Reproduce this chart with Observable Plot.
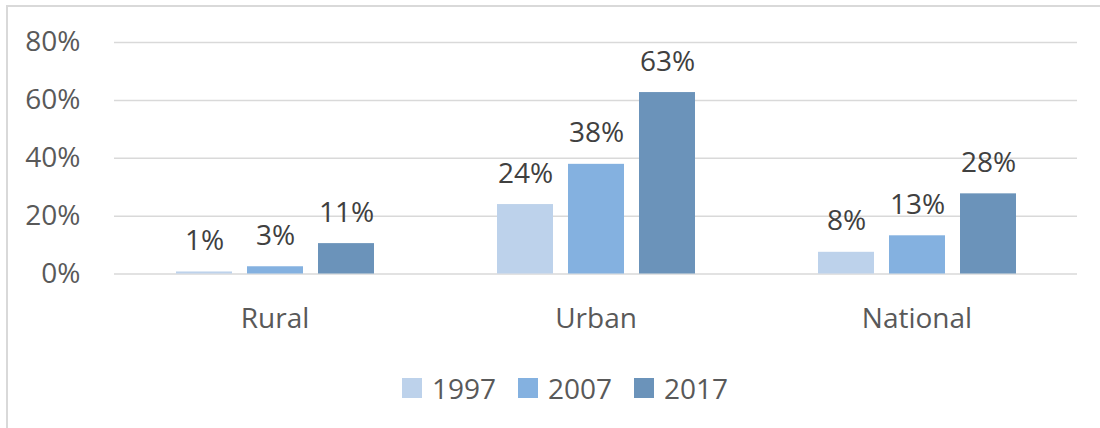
<!DOCTYPE html>
<html><head><meta charset="utf-8">
<script src="https://cdn.jsdelivr.net/npm/d3@7"></script>
<script src="https://cdn.jsdelivr.net/npm/@observablehq/plot@0.6"></script>
<style>
body{margin:0;background:#fff;font-family:"Open Sans",sans-serif;}
#wrap{position:relative;width:1100px;height:428px;overflow:hidden;}
#frame{position:absolute;left:6px;top:5px;width:1200px;height:500px;border:2px solid #d9d9d9;}
#chart{position:absolute;left:0;top:0;}
#legend{position:absolute;left:402px;top:368px;display:flex;align-items:center;font-size:28px;color:#595959;line-height:40px;}
.item{display:flex;align-items:center;margin-right:22px}
.sw{width:20px;height:20px;margin-right:10px}
</style></head>
<body><div id="wrap"><div id="frame"></div><div id="chart"></div><div id="legend"></div></div>
<script>
const categories = ["Rural", "Urban", "National"];
const years = ["1997", "2007", "2017"];
const colors = ["#bdd2eb", "#84b1e0", "#6b93ba"];
const rural = [0.7, 2.5, 10.5];
const urban = [24.0, 37.9, 62.7];
const national = [7.5, 13.2, 27.7];
const ruralLabels = ["1%", "3%", "11%"];
const urbanLabels = ["24%", "38%", "63%"];
const nationalLabels = ["8%", "13%", "28%"];
const yTicks = [0, 20, 40, 60, 80];

const series = [rural, urban, national];
const seriesLabels = [ruralLabels, urbanLabels, nationalLabels];
const data = [];
categories.forEach((c, i) => years.forEach((y, j) => data.push({cat: c, year: y, value: series[i][j], label: seriesLabels[i][j]})));

const chart = Plot.plot({
  width: 1100, height: 350,
  marginLeft: 114, marginRight: 23, marginTop: 42, marginBottom: 76.5,
  style: {fontFamily: "'Open Sans', sans-serif", fontSize: "28px", background: "transparent", overflow: "visible"},
  fx: {domain: categories, padding: 0, label: null},
  x: {domain: years, paddingInner: 15/71, paddingOuter: 123/142, axis: null},
  y: {domain: [0, 80], axis: null},
  color: {domain: years, range: colors},
  marks: [
    Plot.gridY(yTicks, {stroke: "#d9d9d9", strokeOpacity: 1, strokeWidth: 1.5}),
    Plot.axisY(yTicks, {tickSize: 0, tickPadding: 34, tickFormat: d => d + "%", fill: "#595959", fontSize: 28, label: null}),
    Plot.axisFx({anchor: "bottom", tickSize: 0, tickPadding: 34, fill: "#595959", fontSize: 28, label: null}),
    Plot.barY(data, {fx: "cat", x: "year", y: "value", fill: "year"}),
    Plot.text(data, {fx: "cat", x: "year", y: "value", text: "label", lineAnchor: "bottom", dy: -22, fill: "#404040", fontSize: 28})
  ]
});
document.getElementById("chart").appendChild(chart);

const legend = document.getElementById("legend");
years.forEach((y, i) => {
  const it = document.createElement("div"); it.className = "item";
  const sw = document.createElement("div"); sw.className = "sw"; sw.style.background = colors[i];
  const t = document.createElement("span"); t.textContent = y;
  it.appendChild(sw); it.appendChild(t); legend.appendChild(it);
});
</script>
</body></html>
